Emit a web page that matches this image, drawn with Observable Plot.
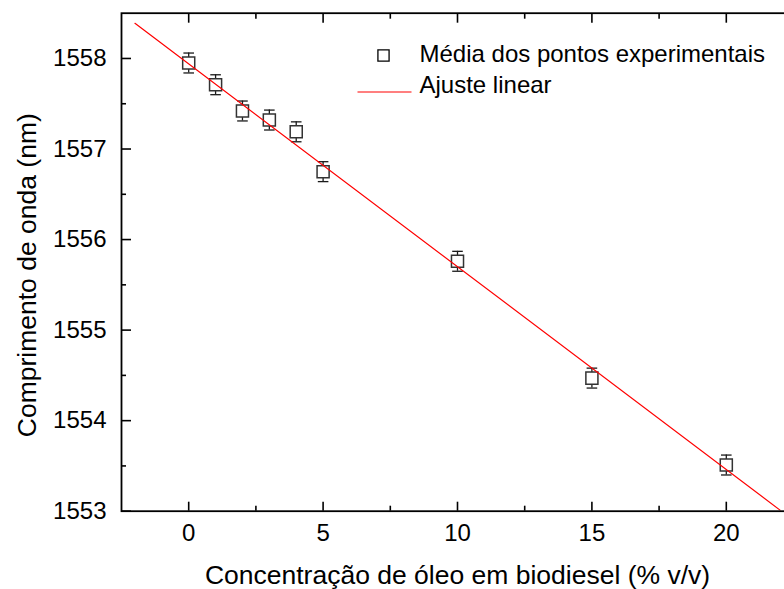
<!DOCTYPE html>
<html>
<head>
<meta charset="utf-8">
<script src="https://cdn.jsdelivr.net/npm/d3@7"></script>
<script src="https://cdn.jsdelivr.net/npm/@observablehq/plot@0.6"></script>
<style>
  html, body { margin: 0; padding: 0; overflow: hidden; background: #fff; }
  #chart { position: relative; width: 784px; height: 589px; overflow: hidden; }
  #chart svg { max-width: none !important; display: block; }
</style>
</head>
<body>
<div id="chart"></div>
<script>
// Mean resonance wavelength versus oil concentration in biodiesel
const concentration = [0, 1, 2, 3, 4, 5, 10, 15, 20];            // % v/v
const wavelength    = [1557.95, 1557.71, 1557.42, 1557.32, 1557.19, 1556.75, 1555.76, 1554.47, 1553.51]; // nm
const uncertainty   = [0.11, 0.11, 0.11, 0.11, 0.11, 0.11, 0.11, 0.11, 0.11];   // nm

// Linear fit parameters and the range over which the fit line is drawn
const fitIntercept = 1557.94;
const fitSlope = -0.224;
const fitRange = [-2, 22];

// Axis ticks
const xMajorTicks = [0, 5, 10, 15, 20];
const xMinorTicks = [2.5, 7.5, 12.5, 17.5];
const yMajorTicks = [1553, 1554, 1555, 1556, 1557, 1558];
const yMinorTicks = [1553.5, 1554.5, 1555.5, 1556.5, 1557.5];

const xTitle = "Concentração de óleo em biodiesel (% v/v)";
const yTitle = "Comprimento de onda (nm)";
const legendPoints = "Média dos pontos experimentais";
const legendFit = "Ajuste linear";

const points = concentration.map((c, i) => ({c, w: wavelength[i], e: uncertainty[i]}));
const fit = fitRange.map(x => ({x, y: fitIntercept + fitSlope * x}));

// horizontal stroke used as a symbol (error-bar caps, legend line)
const hline = half => ({draw(ctx) { ctx.moveTo(-half, 0); ctx.lineTo(half, 0); }});

const font = "'Liberation Sans', Arial, sans-serif";
const none = () => "";
const plain = d => String(d);

const chart = Plot.plot({
  width: 800,
  height: 589,
  marginLeft: 121,
  marginRight: 7,
  marginTop: 12.7,
  marginBottom: 78.3,
  style: {fontFamily: font, color: "#000", background: "transparent"},
  x: {domain: [-2.5, 22.5]},
  y: {domain: [1553, 1558.5]},
  marks: [
    // error bars
    Plot.ruleX(points, {x: "c", y1: d => d.w - d.e, y2: d => d.w + d.e, stroke: "#1a1a1a", strokeWidth: 1.3}),
    Plot.dot(points, {x: "c", y: d => d.w + d.e, symbol: hline(5.3), fill: "none", stroke: "#1a1a1a", strokeWidth: 1.3}),
    Plot.dot(points, {x: "c", y: d => d.w - d.e, symbol: hline(5.3), fill: "none", stroke: "#1a1a1a", strokeWidth: 1.3}),
    // mean values
    Plot.dot(points, {x: "c", y: "w", symbol: "square", r: 6.8, fill: "white", stroke: "#333", strokeWidth: 1.5}),
    // linear fit
    Plot.line(fit, {x: "x", y: "y", stroke: "#ff0000", strokeWidth: 1.2, clip: true}),

    // frame and inward ticks
    Plot.frame({stroke: "#000", strokeWidth: 1.8}),
    Plot.axisX(xMajorTicks, {anchor: "bottom", tickSize: 9, dy: -9, tickPadding: 13, strokeWidth: 1.6, fontSize: 24, tickFormat: plain, label: null}),
    Plot.axisX(xMinorTicks, {anchor: "bottom", tickSize: 5, dy: -5, strokeWidth: 1.6, tickFormat: none, label: null}),
    Plot.axisX(xMajorTicks, {anchor: "top", tickSize: 9, dy: 9, strokeWidth: 1.6, tickFormat: none, label: null}),
    Plot.axisX(xMinorTicks, {anchor: "top", tickSize: 5, dy: 5, strokeWidth: 1.6, tickFormat: none, label: null}),
    Plot.axisY(yMajorTicks, {anchor: "left", tickSize: 10, dx: 10, tickPadding: 15, strokeWidth: 1.6, fontSize: 24, tickFormat: plain, label: null}),
    Plot.axisY(yMinorTicks, {anchor: "left", tickSize: 5, dx: 5, strokeWidth: 1.6, tickFormat: none, label: null}),
    Plot.axisY(yMajorTicks, {anchor: "right", tickSize: 10, dx: -10, strokeWidth: 1.6, tickFormat: none, label: null}),
    Plot.axisY(yMinorTicks, {anchor: "right", tickSize: 5, dx: -5, strokeWidth: 1.6, tickFormat: none, label: null}),

    // axis titles
    Plot.text([xTitle], {frameAnchor: "bottom", dy: 64, textAnchor: "middle", lineAnchor: "middle", fontSize: 26.5, fill: "#000"}),
    Plot.text([yTitle], {frameAnchor: "left", dx: -94, dy: 13, textAnchor: "middle", lineAnchor: "middle", rotate: -90, fontSize: 26.5, fill: "#000"}),

    // legend
    Plot.dot([legendPoints], {frameAnchor: "top-left", dx: 262, dy: 42.3, symbol: "square", r: 6.3, fill: "white", stroke: "#000", strokeWidth: 1.3}),
    Plot.text([legendPoints], {frameAnchor: "top-left", dx: 298, dy: 41.6, textAnchor: "start", lineAnchor: "middle", fontSize: 24, fill: "#000"}),
    Plot.dot([legendFit], {frameAnchor: "top-left", dx: 263, dy: 78.8, symbol: hline(27), fill: "none", stroke: "#ff0000", strokeWidth: 1.2}),
    Plot.text([legendFit], {frameAnchor: "top-left", dx: 298, dy: 72.6, textAnchor: "start", lineAnchor: "middle", fontSize: 24, fill: "#000"})
  ]
});

document.getElementById("chart").appendChild(chart);
</script>
</body>
</html>
